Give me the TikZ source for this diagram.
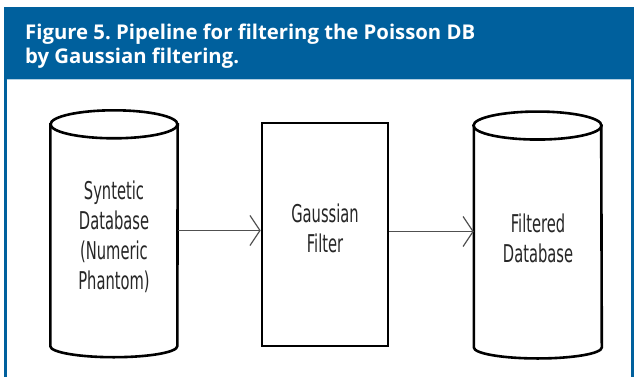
\documentclass[tikz,border=0pt]{standalone}
\usepackage{fontspec}
\usetikzlibrary{arrows.meta,calc}
\newfontfamily\titlefont{Open Sans}
\newfontfamily\diagfont[FakeStretch=0.6]{DejaVu Sans}
\definecolor{figblue}{HTML}{00609D}
\definecolor{arrowgray}{HTML}{505050}
\frenchspacing
\tikzset{
  cylbody/.style={minimum width=127pt, minimum height=221.5pt, inner sep=0pt, draw=none},
  boxshape/.style={draw=black, line width=2.6pt, fill=white, minimum width=126pt, minimum height=223pt, inner sep=0pt},
  cylline/.style={draw=black, line width=2.6pt, fill=white},
  dblabel/.style={font=\diagfont\fontsize{24.5}{30}\selectfont, align=center, text=black!85, inner sep=0pt},
  titletext/.style={font=\titlefont\bfseries\fontsize{20.3}{24}\selectfont, text=white, anchor=base west, inner sep=0pt},
  flow/.style={draw=arrowgray, line width=1.2pt, -{Straight Barb[length=10pt,width=30pt,line width=1.2pt]}}
}
\begin{document}
\begin{tikzpicture}[x=1pt,y=-1pt]
  \useasboundingbox (0,0) rectangle (636,377);
  % frame: blue header bar and side rules
  \fill[figblue] (4,7.3) rectangle (633.5,377);
  \fill[white] (6.7,80) rectangle (631,377);
  \draw[white!70!figblue, line width=0.8pt] (6.7,79.6) -- (631,79.6);
  \node[titletext] (title1) at (25,39.3) {Figure 5. Pipeline for filtering the Poisson DB};
  \node[titletext] (title2) at (25,64) {by Gaussian filtering.};

  % input database cylinder
  \node[cylbody] (syn) at (114,235.25) {};
  \path[cylline] (syn.north west) -- (syn.south west)
    arc[start angle=180, end angle=360, x radius=63.5pt, y radius=11pt]
    -- (syn.north east) -- cycle;
  \draw[cylline] (syn.north) ellipse [x radius=63.5pt, y radius=14pt];
  \node[dblabel] (synlabel) at (114,236.5) {Syntetic\\Database\\(Numeric\\Phantom)};

  % filter block
  \node[boxshape] (flt) at (325,234.5) {};
  \node[dblabel] (fltlabel) at (325,228) {Gaussian\\Filter};

  % output database cylinder
  \node[cylbody] (fdb) at (537.5,236.5) {};
  \path[cylline] (fdb.north west) -- (fdb.south west)
    arc[start angle=180, end angle=360, x radius=64pt, y radius=11pt]
    -- (fdb.north east) -- cycle;
  \draw[cylline] (fdb.north) ellipse [x radius=64pt, y radius=14pt];
  \node[dblabel] (fdblabel) at (538,238) {Filtered\\Database};

  % connectors
  \draw[flow] ([yshift=4.75pt]syn.east) -- ([yshift=4.75pt]syn.east -| flt.west);
  \draw[flow] ([yshift=3pt]flt.east) -- ([yshift=3pt]flt.east -| fdb.west);
\end{tikzpicture}
\end{document}
